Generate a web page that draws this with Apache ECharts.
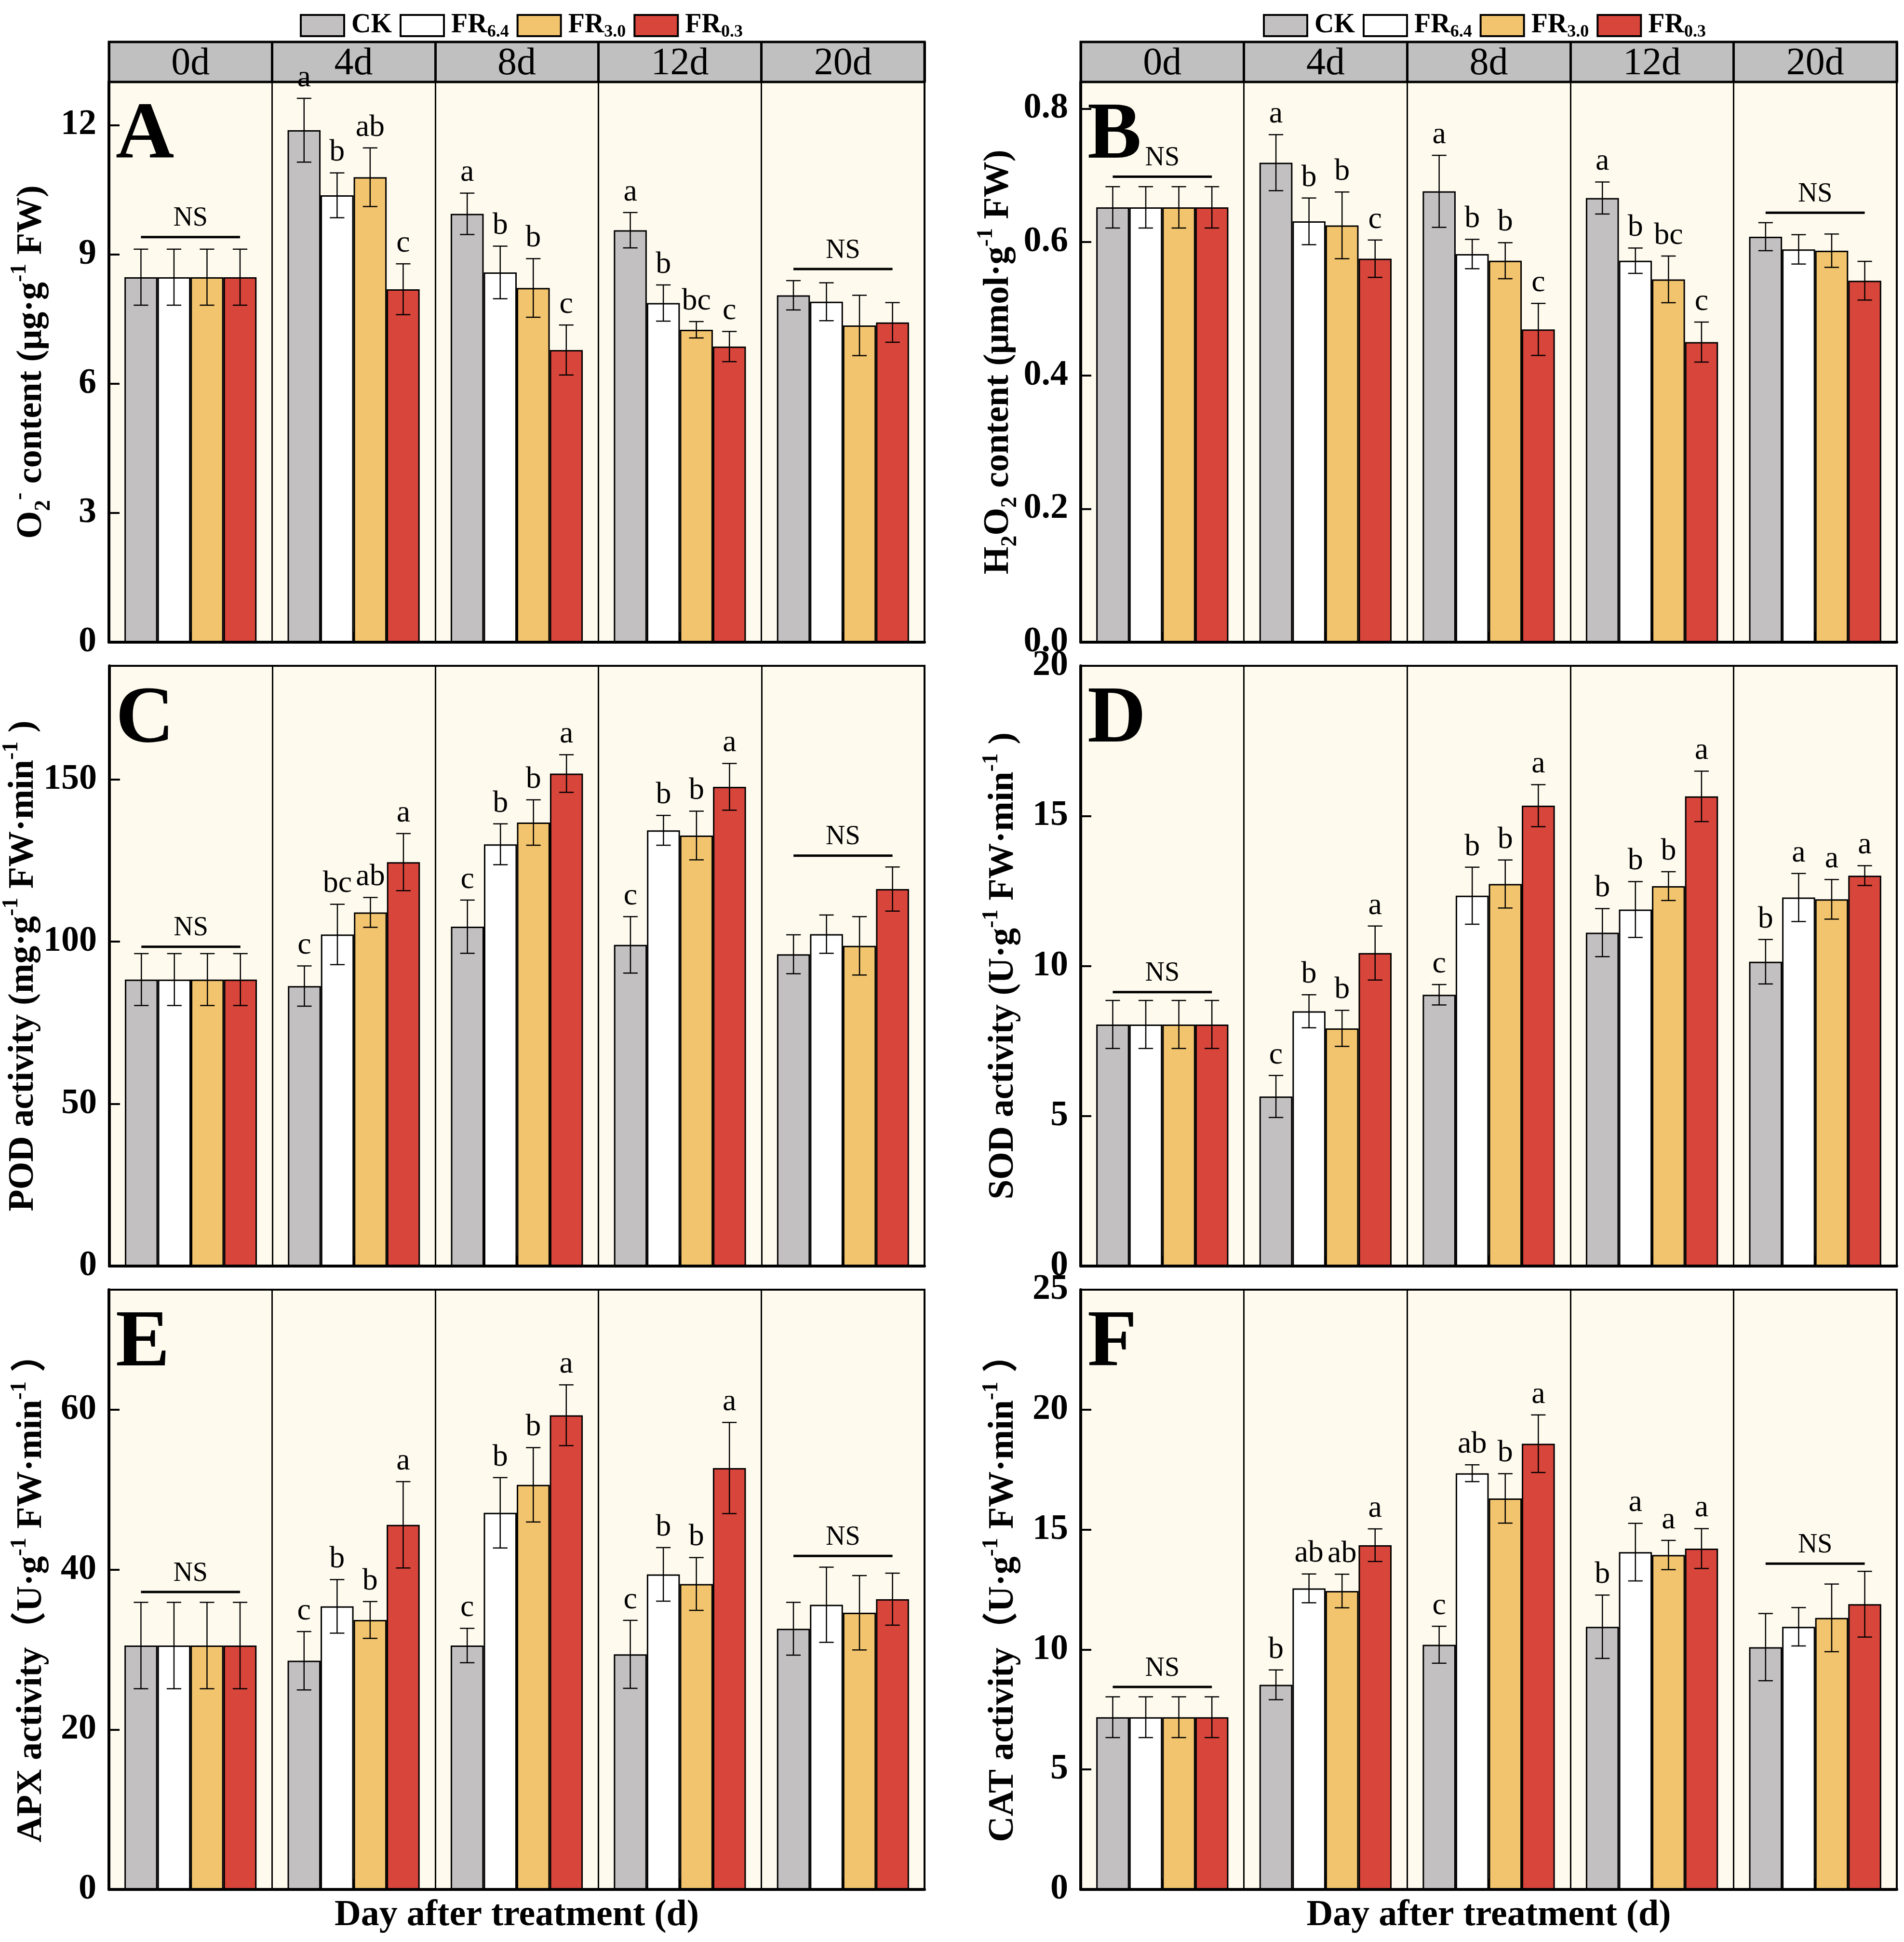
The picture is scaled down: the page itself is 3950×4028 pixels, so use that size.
<!DOCTYPE html>
<html>
<head>
<meta charset="utf-8">
<script src="https://cdn.jsdelivr.net/npm/echarts@6/dist/echarts.min.js"></script>
<style>
html,body{margin:0;padding:0;background:#fff;}
#chartmain{width:3950px;height:4028px;}
</style>
</head>
<body>
<div id="chartmain"></div>
<script>
var days = ['0d','4d','8d','12d','20d'];
var groups = ['CK','FR6.4','FR3.0','FR0.3'];
var colors = ['#C3C0C1','#FFFFFF','#F2C46E','#D8453B'];

// A: O2- content, rows = CK, FR6.4, FR3.0, FR0.3
var o2Mean = [[8.47,11.88,9.94,9.56,8.05],[8.47,10.37,8.58,7.87,7.90],[8.47,10.79,8.22,7.25,7.35],[8.47,8.19,6.78,6.86,7.42]];
var o2Err = [[0.65,0.74,0.48,0.41,0.34],[0.65,0.52,0.61,0.42,0.44],[0.65,0.68,0.68,0.19,0.70],[0.65,0.59,0.58,0.35,0.46]];
var o2Sig = [['','a','a','a',''],['','b','b','b',''],['','ab','b','bc',''],['','c','c','c','']];
var o2NS = [[0,9.40],[4,8.66]];

// B: H2O2 content
var h2o2Mean = [[0.652,0.719,0.676,0.666,0.608],[0.652,0.631,0.582,0.572,0.589],[0.652,0.625,0.572,0.544,0.587],[0.652,0.575,0.469,0.450,0.542]];
var h2o2Err = [[0.031,0.042,0.054,0.024,0.021],[0.031,0.035,0.022,0.019,0.022],[0.031,0.050,0.027,0.035,0.025],[0.031,0.028,0.039,0.030,0.029]];
var h2o2Sig = [['','a','a','a',''],['','b','b','b',''],['','b','b','bc',''],['','c','c','c','']];
var h2o2NS = [[0,0.698],[4,0.644]];

// C: POD activity
var podMean = [[88.3,86.3,104.6,99.0,96.1],[88.3,102.2,130.0,134.3,102.3],[88.3,109.0,136.7,132.7,98.7],[88.3,124.5,151.8,147.7,116.2]];
var podErr = [[8.0,6.2,8.2,8.7,6.0],[8.0,9.3,6.3,4.6,5.9],[8.0,4.6,7.0,7.5,9.0],[8.0,8.8,5.8,7.2,6.8]];
var podSig = [['','c','c','c',''],['','bc','b','b',''],['','ab','b','b',''],['','a','a','a','']];
var podNS = [[0,98.4],[4,126.5]];

// D: SOD activity
var sodMean = [[8.05,5.65,9.04,11.11,10.14],[8.05,8.49,12.34,11.88,12.28],[8.05,7.92,12.73,12.66,12.22],[8.05,10.43,15.34,15.65,13.01]];
var sodErr = [[0.80,0.70,0.34,0.80,0.74],[0.80,0.55,0.95,0.93,0.80],[0.80,0.60,0.80,0.48,0.66],[0.80,0.90,0.70,0.84,0.33]];
var sodSig = [['','c','c','b','b'],['','b','b','b','a'],['','b','b','b','a'],['','a','a','a','a']];
var sodNS = [[0,9.13]];

// E: APX activity
var apxMean = [[30.5,28.6,30.5,29.4,32.6],[30.5,35.4,47.1,39.4,35.6],[30.5,33.7,50.6,38.2,34.6],[30.5,45.6,59.3,52.7,36.3]];
var apxErr = [[5.4,3.65,2.15,4.25,3.3],[5.4,3.35,4.4,3.35,4.7],[5.4,2.3,4.65,3.3,4.65],[5.4,5.4,3.8,5.7,3.25]];
var apxSig = [['','c','c','c',''],['','b','b','b',''],['','b','b','b',''],['','a','a','a','']];
var apxNS = [[0,37.2],[4,41.7]];

// F: CAT activity
var catMean = [[7.18,8.53,10.20,10.95,10.10],[7.18,12.55,17.35,14.06,10.95],[7.18,12.44,16.30,13.94,11.32],[7.18,14.35,18.58,14.21,11.89]];
var catErr = [[0.85,0.62,0.77,1.32,1.40],[0.85,0.60,0.35,1.20,0.80],[0.85,0.70,1.03,0.61,1.41],[0.85,0.68,1.20,0.83,1.37]];
var catSig = [['','b','c','b',''],['','ab','ab','a',''],['','ab','b','a',''],['','a','a','a','']];
var catNS = [[0,8.44],[4,13.58]];

var FONT = '"Liberation Serif", "Times New Roman", "Noto Sans CJK SC", serif';

var panels = [
  {mean:o2Mean, err:o2Err, sig:o2Sig, ns:o2NS, max:13, step:3, dec:0, tag:'A',
   name:'{t|O}{sub|2}{sup|-}{t| content (μg·g}{sup|-1}{t| FW)}'},
  {mean:h2o2Mean, err:h2o2Err, sig:h2o2Sig, ns:h2o2NS, max:0.84, step:0.2, dec:1, tag:'B',
   name:'{t|H}{sub|2}{t|O}{sub|2}{t| content (μmol·g}{sup|-1}{t| FW)}'},
  {mean:podMean, err:podErr, sig:podSig, ns:podNS, max:185, step:50, dec:0, tag:'C',
   name:'{t|POD activity (mg·g}{sup|-1}{t| FW·min}{sup|-1}{t| )}'},
  {mean:sodMean, err:sodErr, sig:sodSig, ns:sodNS, max:20, step:5, dec:0, tag:'D',
   name:'{t|SOD activity (U·g}{sup|-1}{t| FW·min}{sup|-1}{t| )}'},
  {mean:apxMean, err:apxErr, sig:apxSig, ns:apxNS, max:75, step:20, dec:0, tag:'E',
   name:'{t|APX activity（U·g}{sup|-1}{t| FW·min}{sup|-1}{t| ）}'},
  {mean:catMean, err:catErr, sig:catSig, ns:catNS, max:25, step:5, dec:0, tag:'F',
   name:'{t|CAT activity（U·g}{sup|-1}{t| FW·min}{sup|-1}{t| ）}'}
];

// 面板位置
var boxes = [
  {left:226, top:170, width:1692, height:1162},
  {left:2242, top:170, width:1693, height:1162},
  {left:226, top:1381, width:1692, height:1245},
  {left:2242, top:1381, width:1693, height:1245},
  {left:226, top:2675, width:1692, height:1244},
  {left:2242, top:2675, width:1693, height:1244}
];
var heads = [
  {left:226, top:87, width:1692, height:83},
  {left:2242, top:87, width:1693, height:83}
];

var GROUP_FILL = 0.81; // share of a category band used by the 4 bars

var nameRich = {
  t:{fontSize:74, fontWeight:'bold', fontFamily:FONT, color:'#000', lineHeight:96},
  sub:{fontSize:46, fontWeight:'bold', fontFamily:FONT, color:'#000', verticalAlign:'bottom', lineHeight:46},
  sup:{fontSize:46, fontWeight:'bold', fontFamily:FONT, color:'#000', verticalAlign:'top', lineHeight:46}
};

//误差线 + 显著性字母
function errRender(k, sig){
  return function(params, api){
    var idx = api.value(0), m = api.value(1), e = api.value(2);
    var band = api.size([1,0])[0];
    var bw = band*GROUP_FILL/4;
    var x = api.coord([idx, m])[0] + (k-1.5)*bw;
    var yt = api.coord([idx, m+e])[1];
    var yb = api.coord([idx, m-e])[1];
    var cap = bw*0.22;
    var ls = {stroke:'#000', lineWidth:2.5};
    var ch = [
      {type:'line', shape:{x1:x, y1:yt, x2:x, y2:yb}, style:ls},
      {type:'line', shape:{x1:x-cap, y1:yt, x2:x+cap, y2:yt}, style:ls},
      {type:'line', shape:{x1:x-cap, y1:yb, x2:x+cap, y2:yb}, style:ls}
    ];
    var s = sig[params.dataIndex];
    if(s){
      ch.push({type:'text', style:{text:s, x:x, y:yt-10, align:'center', verticalAlign:'bottom',
        fontSize:64, fontFamily:FONT, fill:'#000'}});
    }
    return {type:'group', children:ch};
  };
}

// NS 横线
function nsRender(params, api){
  var idx = api.value(0), v = api.value(1);
  var band = api.size([1,0])[0];
  var bw = band*GROUP_FILL/4;
  var p = api.coord([idx, v]);
  return {type:'group', children:[
    {type:'line', shape:{x1:p[0]-1.5*bw, y1:p[1], x2:p[0]+1.5*bw, y2:p[1]}, style:{stroke:'#000', lineWidth:5}},
    {type:'text', style:{text:'NS', x:p[0], y:p[1]-10, align:'center', verticalAlign:'bottom',
      fontSize:56, fontFamily:FONT, fill:'#000'}}
  ]};
}

var grid = [], xAxis = [], yAxis = [], series = [], title = [];

panels.forEach(function(pn, i){
  var b = boxes[i];
  grid.push({left:b.left, top:b.top, width:b.width, height:b.height, show:true,
    backgroundColor:'#FEFAEE', borderColor:'#000', borderWidth:4});
  var xa = {type:'category', gridIndex:i, data:days,
    axisLine:{lineStyle:{color:'#000', width:6}},
    axisTick:{show:true, inside:true, alignWithLabel:true, length:22, lineStyle:{color:'#000', width:4}},
    axisLabel:{show:false},
    splitLine:{show:true, lineStyle:{color:'#000', width:3}}};
  if(i >= 4){
    xa.name = 'Day after treatment (d)';
    xa.nameLocation = 'middle';
    xa.nameGap = 16;
    xa.nameTextStyle = {fontSize:76, fontWeight:'bold', fontFamily:FONT, color:'#000'};
  }
  xAxis.push(xa);
  yAxis.push({type:'value', gridIndex:i, min:0, max:pn.max, interval:pn.step,
    name:pn.name, nameLocation:'middle', nameRotate:90, nameGap:112,
    nameTextStyle:{rich:nameRich},
    axisLine:{show:true, lineStyle:{color:'#000', width:6}},
    axisTick:{show:true, inside:true, length:22, lineStyle:{color:'#000', width:4}},
    axisLabel:{margin:26, fontSize:74, fontWeight:'bold', fontFamily:FONT, color:'#000',
      showMaxLabel:(pn.max % pn.step === 0),
      formatter:function(v){
        var r = v/pn.step;
        if(Math.abs(r-Math.round(r)) > 1e-6) return '';
        return v.toFixed(pn.dec);
      }},
    splitLine:{show:false}});

  title.push({text:pn.tag, left:b.left+14, top:b.top+30, padding:0,
    textStyle:{fontSize:168, fontWeight:'bold', fontFamily:FONT, color:'#000'}});

  for(var k=0;k<4;k++){
    series.push({type:'bar', name:groups[k], xAxisIndex:i, yAxisIndex:i,
      data:pn.mean[k], barGap:'0%', barCategoryGap:'19%',
      itemStyle:{color:colors[k], borderColor:'#000', borderWidth:3},
      emphasis:{disabled:true}, z:2});
  }
  for(var k=0;k<4;k++){
    var d = pn.mean[k].map(function(v, j){ return [j, v, pn.err[k][j]]; });
    series.push({type:'custom', xAxisIndex:i, yAxisIndex:i, data:d, z:5, clip:false,
      renderItem:errRender(k, pn.sig[k]), encode:{x:0, y:1}, silent:true});
  }
  series.push({type:'custom', xAxisIndex:i, yAxisIndex:i, data:pn.ns, z:5, clip:false,
    renderItem:nsRender, encode:{x:0, y:1}, silent:true});
});

//表头 0d 4d ...
heads.forEach(function(h, j){
  var gi = 6 + j;
  grid.push({left:h.left, top:h.top, width:h.width, height:h.height, show:true,
    backgroundColor:'#C0C0C0', borderColor:'#000', borderWidth:5});
  xAxis.push({type:'category', gridIndex:gi, data:days,
    axisLine:{show:false}, axisTick:{show:false},
    axisLabel:{inside:true, margin:-3, fontSize:80, fontFamily:FONT, color:'#000'},
    splitLine:{show:true, lineStyle:{color:'#000', width:5}}});
  yAxis.push({type:'value', gridIndex:gi, min:0, max:1, show:false});
});

function legendFmt(name){
  if(name.indexOf('FR') === 0) return '{b|FR}{s|' + name.substring(2) + '}';
  return '{b|' + name + '}';
}
var legendText = {color:'#000', padding:[0,0,0,10], rich:{
  b:{fontSize:56, fontWeight:'bold', fontFamily:FONT, color:'#000', lineHeight:64},
  s:{fontSize:36, fontWeight:'bold', fontFamily:FONT, color:'#000', verticalAlign:'bottom', lineHeight:36}
}};
var legend = [617, 2615].map(function(lx){
  return {left:lx, top:20, data:groups, icon:'rect', itemWidth:90, itemHeight:44, itemGap:16,
    selectedMode:false, formatter:legendFmt, textStyle:legendText,
    itemStyle:{borderColor:'#000', borderWidth:4}};
});

var myChart = echarts.init(document.getElementById('chartmain'));
myChart.setOption({
  animation:false,
  backgroundColor:'#FFFFFF',
  title:title,
  legend:legend,
  grid:grid,
  xAxis:xAxis,
  yAxis:yAxis,
  series:series
});
</script>
</body>
</html>
